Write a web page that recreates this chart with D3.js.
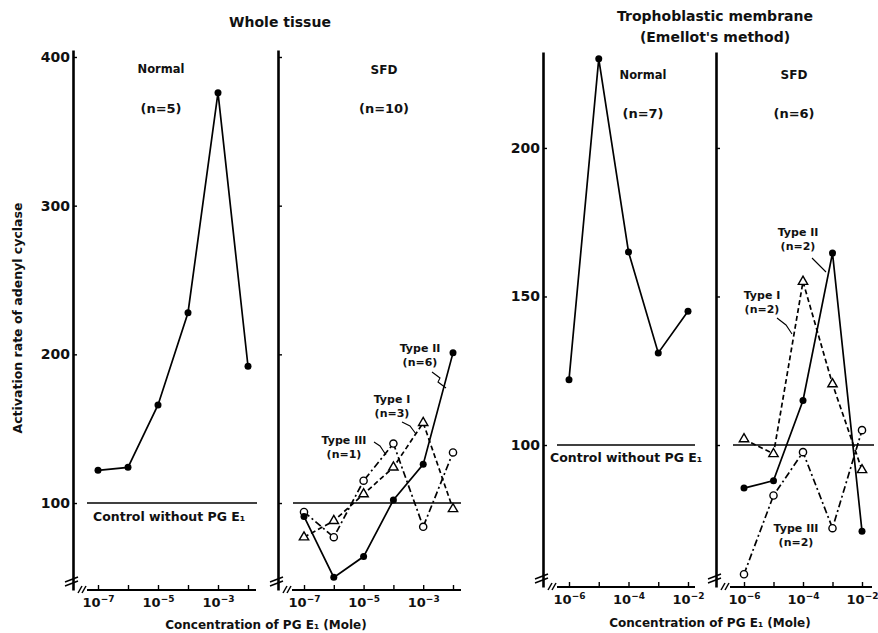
<!DOCTYPE html>
<html>
<head>
<meta charset="utf-8">
<script src="https://cdn.jsdelivr.net/npm/d3@7"></script>
<style>
  body { margin: 0; background: #fff; }
  svg text { font-family: "DejaVu Sans", sans-serif; font-weight: bold; fill: #111; }
</style>
</head>
<body>
<svg id="gfx" width="878" height="633"></svg>
<script>
// concentrations (Mole)
const concWhole = [1e-7, 1e-6, 1e-5, 1e-4, 1e-3, 1e-2];
const concTroph = [1e-6, 1e-5, 1e-4, 1e-3, 1e-2];

// whole tissue
const wholeNormal = [122, 124, 166, 228, 376, 192];
const wholeType1 = [77, 88, 106, 124, 154, 96];
const wholeType2 = [91, 50, 64, 102, 126, 201];
const wholeType3 = [94, 77, 115, 140, 84, 134];

// trophoblastic membrane
const trophNormal = [122, 230, 165, 131, 145];
const trophType1 = [102, 97, 155, 120.5, 91.6];
const trophType2 = [85.5, 88, 115, 164.6, 71];
const trophType3 = [56.5, 83, 97.6, 72, 105];

const wholeTicksY = [100, 200, 300, 400];
const trophTicksY = [100, 150, 200];

const svg = d3.select("#gfx");

const yWhole = d3.scaleLinear().domain([41.5, 404.7]).range([590, 50]);
const yTroph = d3.scaleLinear().domain([52.2, 232.3]).range([587, 52]);

function sup(sel, exps) {
    // "10" with a superscript exponent, only on labelled decades
    sel.each(function (d) {
        const t = d3.select(this);
        const e = Math.round(Math.log10(d));
        t.text("");
        if (!exps.includes(e)) return;
        t.append("tspan").text("10");
        t.append("tspan").attr("dy", "-0.55em").attr("font-size", "9px").text("\u2212" + (-e));
    });
}

function panel(p) {
    const g = svg.append("g");
    const x = d3.scaleLog().domain(p.xdom).range(p.xr);
    const y = p.y;

    // y axis
    const ya = g.append("g").attr("transform", "translate(" + p.ax + ",0)")
        .call(d3.axisLeft(y).tickValues(p.yt).tickSize(-4).tickSizeOuter(0)
            .tickFormat(p.ylabels ? d3.format("d") : ""));
    ya.select(".domain").attr("stroke-width", 2.6);
    ya.selectAll("text").attr("font-size", "14px").attr("x", -3);
    ya.selectAll(".tick line").attr("stroke-width", 1.4);

    // x axis
    const base = y.range()[0];
    const xa = g.append("g").attr("transform", "translate(0," + base + ")")
        .call(d3.axisBottom(x).tickValues(p.xdom[0] == 1e-7 ? concWhole : concTroph)
            .tickSize(-5).tickSizeOuter(0).tickPadding(8));
    xa.select(".domain").attr("d", "M" + (p.ax + 14) + ",0H" + p.xend).attr("stroke-width", 1.8);
    xa.selectAll(".tick line").attr("stroke-width", 1.4);
    xa.selectAll("text").attr("font-size", "13px").call(sup, p.exps);

    // axis breaks
    const bk = g.append("g").attr("stroke", "#000").attr("stroke-width", 1.5).attr("fill", "none");
    [0, 4].forEach(o => {
        bk.append("line").attr("x1", p.ax - 8).attr("x2", p.ax + 5)
            .attr("y1", base - 8 + o).attr("y2", base - 13 + o);
        bk.append("line").attr("x1", p.ax + 5 + o).attr("x2", p.ax + 9 + o)
            .attr("y1", base + 3).attr("y2", base - 4);
    });

    // control line
    g.append("line").attr("x1", p.cx[0]).attr("x2", p.cx[1])
        .attr("y1", y(100)).attr("y2", y(100)).attr("stroke", "#000").attr("stroke-width", 1.5);

    p.series.forEach(s => {
        const line = d3.line().x((d, i) => x(s.conc[i])).y(d => y(d));
        g.append("path").datum(s.vals).attr("d", line).attr("fill", "none")
            .attr("stroke", "#000").attr("stroke-width", 1.7)
            .attr("stroke-dasharray", s.dash || null);
        const m = g.selectAll(null).data(s.vals).enter();
        if (s.mark == "dot") {
            m.append("circle").attr("cx", (d, i) => x(s.conc[i])).attr("cy", d => y(d))
                .attr("r", 3.5).attr("fill", "#000");
        } else if (s.mark == "ring") {
            m.append("circle").attr("cx", (d, i) => x(s.conc[i])).attr("cy", d => y(d))
                .attr("r", 3.6).attr("fill", "#fff").attr("stroke", "#000").attr("stroke-width", 1.4);
        } else {
            m.append("path").attr("transform", (d, i) => "translate(" + x(s.conc[i]) + "," + y(d) + ")")
                .attr("d", d3.symbol(d3.symbolTriangle, 38)).attr("fill", "#fff")
                .attr("stroke", "#000").attr("stroke-width", 1.4);
        }
    });
    return g;
}

panel({
    xdom: [1e-7, 1e-2], xr: [98, 248], ax: 73, xend: 256, y: yWhole, yt: wholeTicksY,
    ylabels: true, exps: [-7, -5, -3], cx: [87, 257],
    series: [{ conc: concWhole, vals: wholeNormal, mark: "dot" }]
});
panel({
    xdom: [1e-7, 1e-2], xr: [304, 453], ax: 278, xend: 461, y: yWhole, yt: wholeTicksY,
    ylabels: false, exps: [-7, -5, -3], cx: [293, 461],
    series: [
        { conc: concWhole, vals: wholeType3, mark: "ring", dash: "7,3,2,3" },
        { conc: concWhole, vals: wholeType1, mark: "tri", dash: "5,3" },
        { conc: concWhole, vals: wholeType2, mark: "dot" }
    ]
});
panel({
    xdom: [1e-6, 1e-2], xr: [569, 688], ax: 543, xend: 695, y: yTroph, yt: trophTicksY,
    ylabels: true, exps: [-6, -4, -2], cx: [557, 695],
    series: [{ conc: concTroph, vals: trophNormal, mark: "dot" }]
});
panel({
    xdom: [1e-6, 1e-2], xr: [744, 862], ax: 716, xend: 872, y: yTroph, yt: trophTicksY,
    ylabels: false, exps: [-6, -4, -2], cx: [733, 874],
    series: [
        { conc: concTroph, vals: trophType3, mark: "ring", dash: "7,3,2,3" },
        { conc: concTroph, vals: trophType1, mark: "tri", dash: "5,3" },
        { conc: concTroph, vals: trophType2, mark: "dot" }
    ]
});

// texts
function txt(x, y, s, size, anchor) {
    return svg.append("text").attr("x", x).attr("y", y).attr("font-size", size || "11px")
        .attr("text-anchor", anchor || "middle").text(s);
}
txt(280, 27, "Whole tissue", "14px");
txt(715, 21, "Trophoblastic membrane", "14px");
txt(715, 42, "(Emellot's method)", "14px");
txt(161, 73, "Normal", "11.5px");
txt(161, 113, "(n=5)", "13px");
txt(384, 74, "SFD", "12px");
txt(384, 113, "(n=10)", "13px");
txt(643, 79, "Normal", "11.5px");
txt(643, 118, "(n=7)", "13px");
txt(794, 79, "SFD", "12px");
txt(794, 118, "(n=6)", "13px");

txt(93, 521, "Control without PG E\u2081", "12.5px", "start");
txt(550, 462, "Control without PG E\u2081", "12.5px", "start");

svg.append("text").attr("transform", "translate(22,318) rotate(-90)")
    .attr("font-size", "12.5px").attr("text-anchor", "middle").text("Activation rate of adenyl cyclase");
txt(266, 629, "Concentration of PG E\u2081 (Mole)", "12px");
txt(710, 627, "Concentration of PG E\u2081 (Mole)", "12px");

// type labels with leaders
const typeLabels = [
    { x: 420, y: 352, a: "Type II", b: "(n=6)", l: [[432, 372], [440, 378], [438, 382], [446, 388]] },
    { x: 392, y: 403, a: "Type I", b: "(n=3)", l: [[402, 422], [410, 426], [416, 434]] },
    { x: 344, y: 444, a: "Type III", b: "(n=1)", l: [[374, 442], [380, 446], [386, 455]] },
    { x: 798, y: 236, a: "Type II", b: "(n=2)", l: [[812, 258], [820, 266], [826, 272]] },
    { x: 762, y: 299, a: "Type I", b: "(n=2)", l: [[777, 318], [786, 325], [792, 334]] },
    { x: 796, y: 532, a: "Type III", b: "(n=2)", l: [] }
];
typeLabels.forEach(t => {
    txt(t.x, t.y, t.a, "11px");
    txt(t.x, t.y + 14, t.b, "11px");
    if (t.l.length) {
        svg.append("path").attr("d", d3.line()(t.l)).attr("fill", "none")
            .attr("stroke", "#000").attr("stroke-width", 1.1);
    }
});
</script>
</body>
</html>
